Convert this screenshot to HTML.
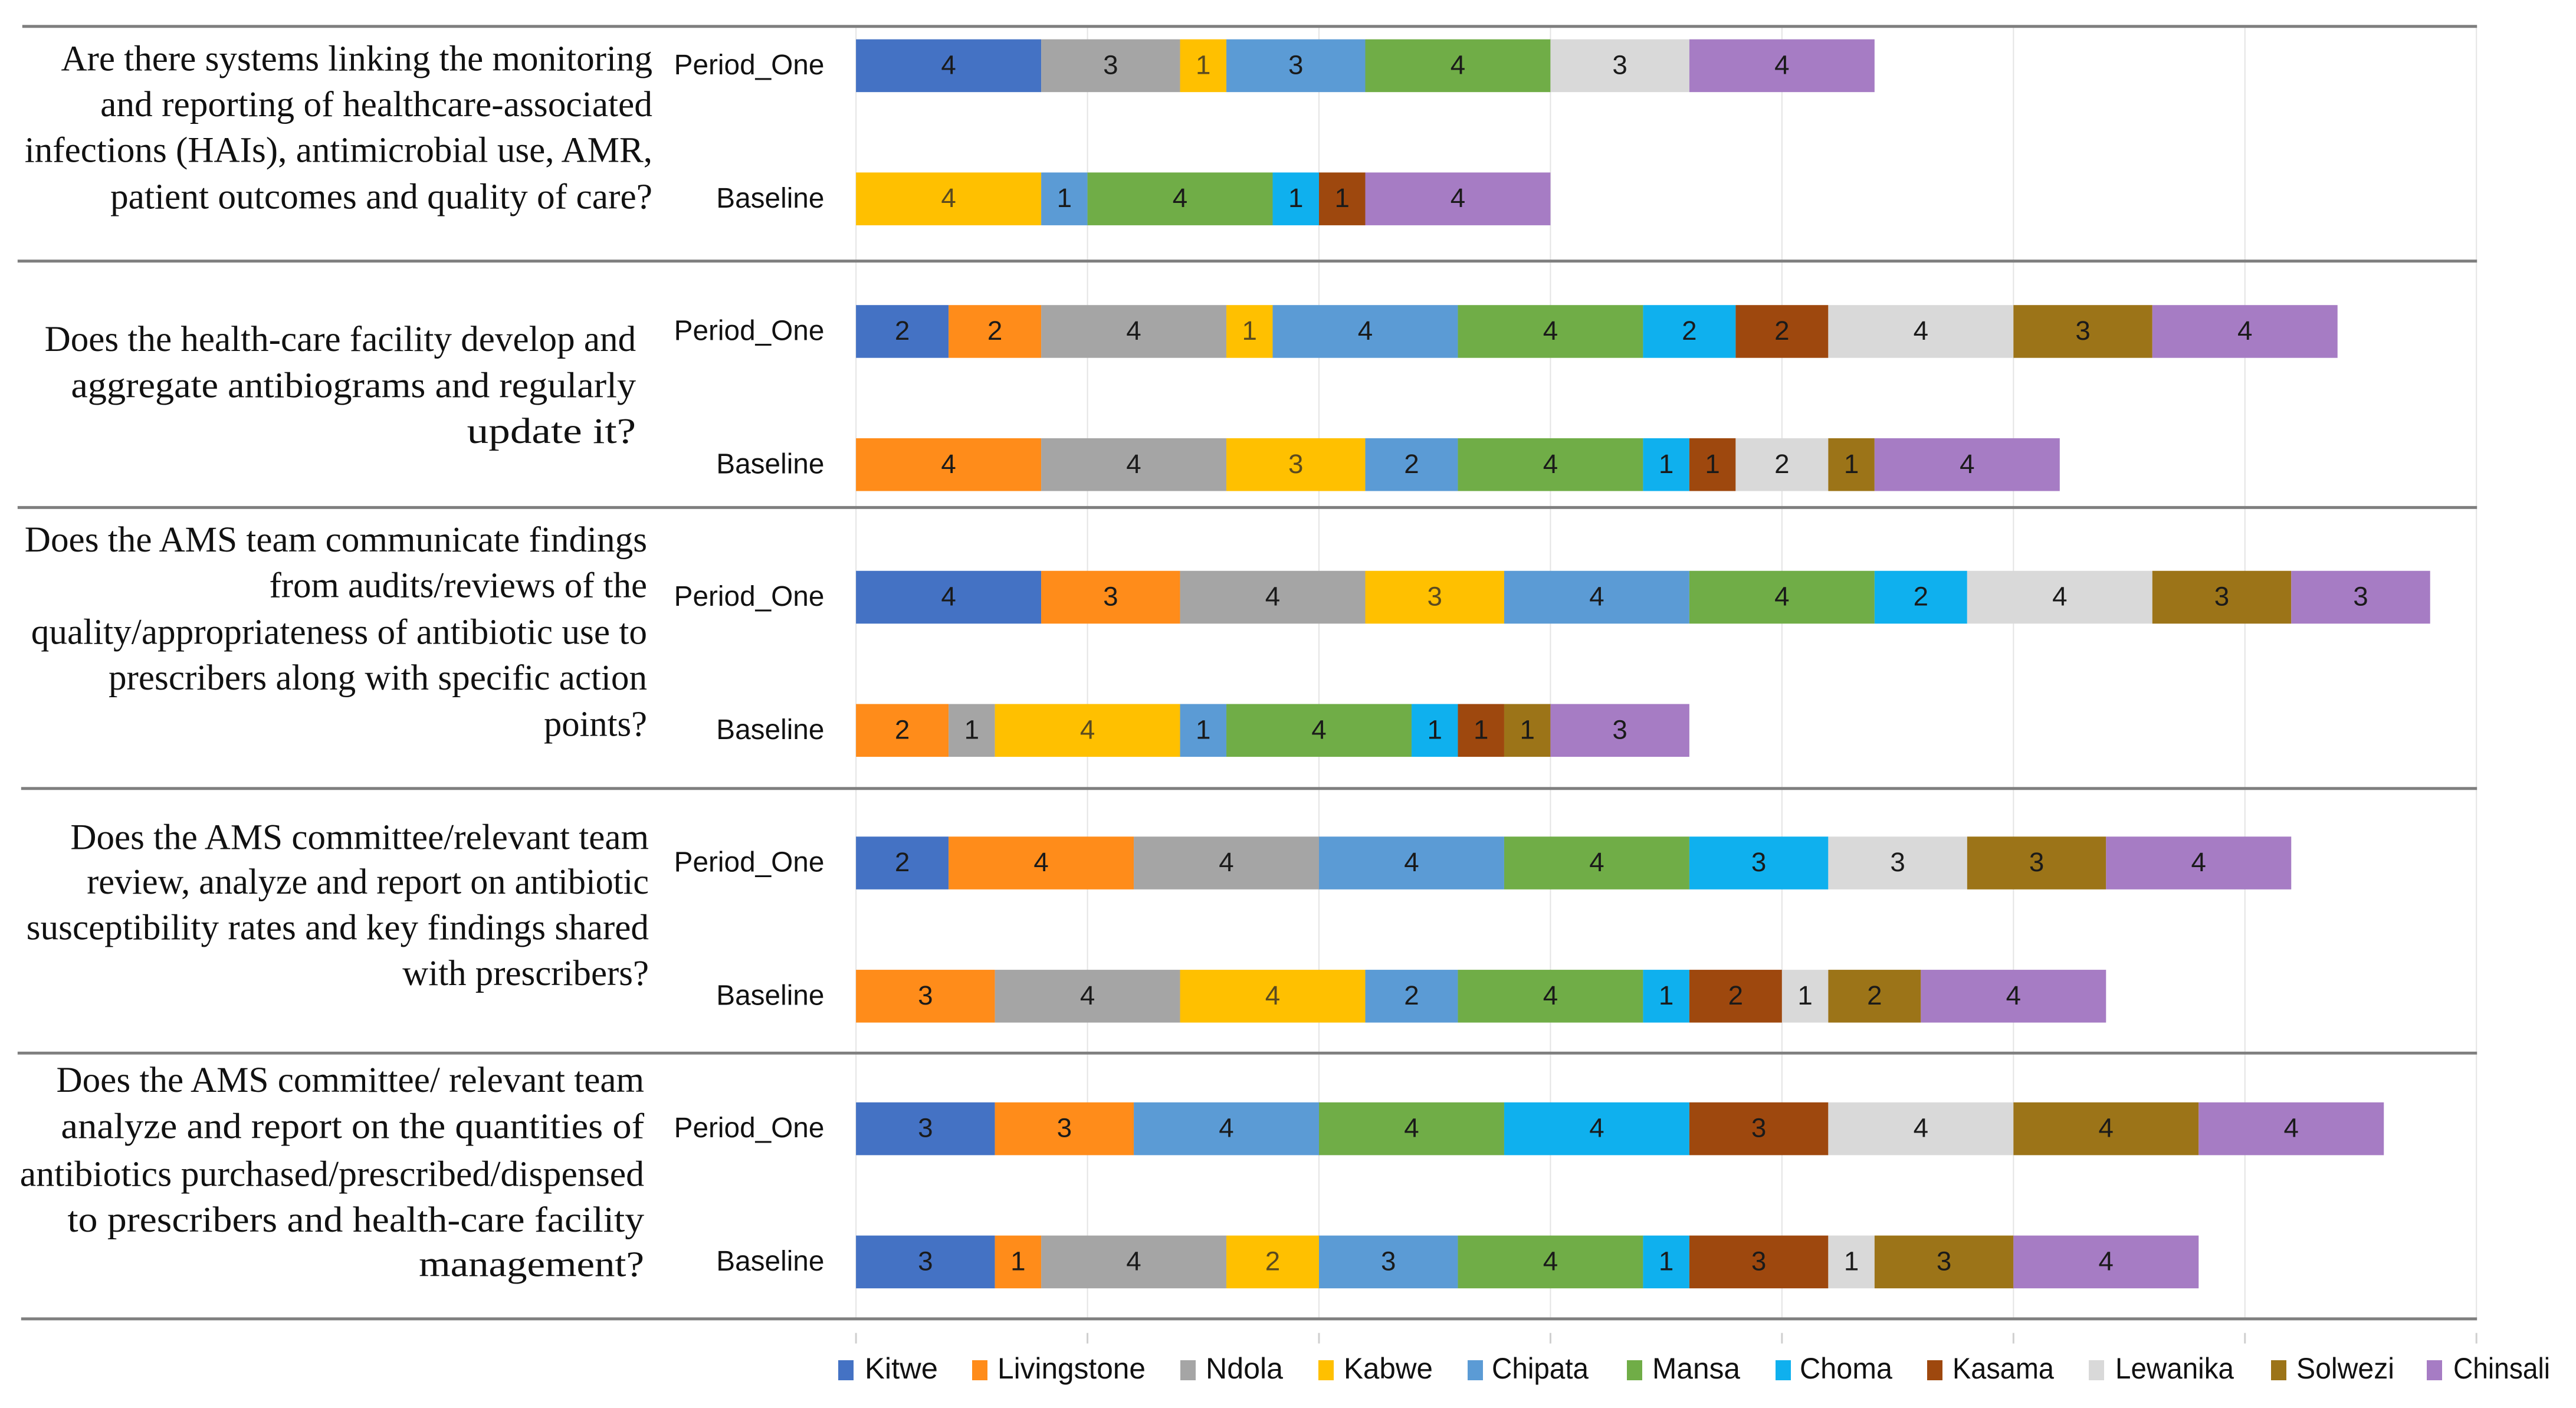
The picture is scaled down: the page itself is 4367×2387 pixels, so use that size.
<!DOCTYPE html>
<html><head><meta charset="utf-8"><style>
html,body{margin:0;padding:0;background:#fff;}
svg{display:block;}
</style></head><body>
<svg id="chart" width="4367" height="2387" viewBox="0 0 4367 2387" xmlns="http://www.w3.org/2000/svg">
<g id="main" transform="scale(0.9946)">
<g id="grid"></g>
<g id="seps"></g>
<g id="bars"></g>
<g id="qs"></g>
<g id="cats"></g>
</g>
<g id="legend"></g>
</svg>
<script>
// rows: Q1 P1, Q1 Base, Q2 P1, Q2 Base, Q3 P1, Q3 Base, Q4 P1, Q4 Base, Q5 P1, Q5 Base
const rowLabels = ["Period_One","Baseline","Period_One","Baseline","Period_One","Baseline","Period_One","Baseline","Period_One","Baseline"];
const seriesNames = ["Kitwe","Livingstone","Ndola","Kabwe","Chipata","Mansa","Choma","Kasama","Lewanika","Solwezi","Chinsali"];
const kitwe       = [4,0,2,0,4,0,2,0,3,3];
const livingstone = [0,0,2,4,3,2,4,3,3,1];
const ndola       = [3,0,4,4,4,1,4,4,0,4];
const kabwe       = [1,4,1,3,3,4,0,4,0,2];
const chipata     = [3,1,4,2,4,1,4,2,4,3];
const mansa       = [4,4,4,4,4,4,4,4,4,4];
const choma       = [0,1,2,1,2,1,3,1,4,1];
const kasama      = [0,1,2,1,0,1,0,2,3,3];
const lewanika    = [3,0,4,2,4,0,3,1,4,1];
const solwezi     = [0,0,3,1,3,1,3,2,4,3];
const chinsali    = [4,4,4,4,3,3,4,4,4,4];
const axisTicks = [0,5,10,15,20,25,30,35];

const seriesValues = [kitwe,livingstone,ndola,kabwe,chipata,mansa,choma,kasama,lewanika,solwezi,chinsali];
const colors = ["#4472C4","#FF8C1A","#A5A5A5","#FFC000","#5B9BD5","#70AD47","#0FB0EE","#9E480E","#D9D9D9","#9C7418","#A67CC4"];
const NS="http://www.w3.org/2000/svg";
const X0=1459, UNIT=(4221-1459)/35;
const xs=v=>X0+v*UNIT;
const rowY=i=>112+Math.floor(i/2)*453+(i%2)*227;
const BAR_H=90;
function mk(tag,attrs,parent){const e=document.createElementNS(NS,tag);for(const k in attrs)e.setAttribute(k,attrs[k]);parent.appendChild(e);return e;}
const grid=document.getElementById('grid');
axisTicks.forEach(t=>{
  const l=mk('line',{x1:xs(t),x2:xs(t),y1:45,y2:2248,stroke:'#e4e4e4','stroke-width':2},grid);
  
  
  const tk=mk('line',{x1:xs(t),x2:xs(t),y1:2272,y2:2290,stroke:'#cfcfcf','stroke-width':3},grid);
  
  
});
const seps=document.getElementById('seps');
[[38,45],[30,445],[30,865],[36,1344],[30,1795],[36,2248]].forEach(s=>{
  const l=mk('line',{x1:s[0],x2:4222,y1:s[1],y2:s[1],stroke:'#7f7f7f','stroke-width':5},seps);
  
  
});
const bars=document.getElementById('bars');
rowLabels.forEach((lab,i)=>{
  let acc=0;
  const cy=rowY(i);
  seriesValues.forEach((arr,s)=>{
    const v=arr[i]; if(!v) return;
    const r=mk('rect',{x:xs(acc),y:cy-BAR_H/2,width:xs(acc+v)-xs(acc),height:BAR_H,fill:colors[s]},bars);
    
    
    const t=mk('text',{x:(xs(acc)+xs(acc+v))/2,y:cy+2,'text-anchor':'middle','dominant-baseline':'middle','font-family':'Liberation Sans, sans-serif','font-size':46,fill:s===3?'#5a4a20':'#1a1a1a'},bars);
    t.textContent=v;
    
    
    acc+=v;
  });
  const c=mk('text',{x:1405,y:cy+2,'text-anchor':'end','dominant-baseline':'middle','font-family':'Liberation Sans, sans-serif','font-size':48,fill:'#111'},document.getElementById('cats'));
  c.textContent=lab;
  
  
});
const questions=[
 [1112,[104,182,260,339],["Are there systems linking the monitoring","and reporting of healthcare-associated","infections (HAIs), antimicrobial use, AMR,","patient outcomes and quality of care?"],[1008,941,1070,924]],
 [1084,[582,661,739],["Does the health-care facility develop and","aggregate antibiograms  and regularly","update it?"],[1008,963,288]],
 [1103,[924,1002,1081,1159,1238],["Does the AMS team communicate findings","from audits/reviews of the","quality/appropriateness of antibiotic use to","prescribers along with specific action","points?"],[1061,644,1050,918,176]],
 [1106,[1431,1507,1585,1663],["Does the AMS committee/relevant team","review, analyze and report on antibiotic","susceptibility rates and key findings shared","with prescribers?"],[986,958,1061,420]],
 [1098,[1845,1924,2005,2083,2159],["Does the AMS committee/ relevant team","analyze and report on the quantities of","antibiotics purchased/prescribed/dispensed","to prescribers and health-care facility","management?"],[1002,994,1064,983,384]]
];
const qs=document.getElementById('qs');
questions.forEach(q=>{
  q[2].forEach((line,j)=>{
    const t=mk('text',{x:q[0],y:q[1][j]+2,'text-anchor':'end','dominant-baseline':'middle','font-family':'Liberation Serif, serif','font-size':62,fill:'#111',textLength:q[3][j],lengthAdjust:'spacingAndGlyphs'},qs);
    t.textContent=line;
    
    
  });
});
const legSq=[1421,1648,2001,2235,2488,2758,3010,3267,3541,3850,4114];
const legTx=[[1466,124],[1691,251],[2044,131],[2278,151],[2529,164],[2801,149],[3051,157],[3310,172],[3586,201],[3893,166],[4159,164]];
const lg=document.getElementById('legend');
seriesNames.forEach((n,i)=>{
  const g=mk('g',{},lg);
  
  
  mk('rect',{x:legSq[i],y:2306,width:26,height:34,fill:colors[i]},g);
  const t=mk('text',{x:legTx[i][0],y:2324,'dominant-baseline':'middle','font-family':'Liberation Sans, sans-serif','font-size':50,fill:'#111',textLength:legTx[i][1],lengthAdjust:'spacingAndGlyphs'},g);
  t.textContent=n;
});
</script>
</body></html>
